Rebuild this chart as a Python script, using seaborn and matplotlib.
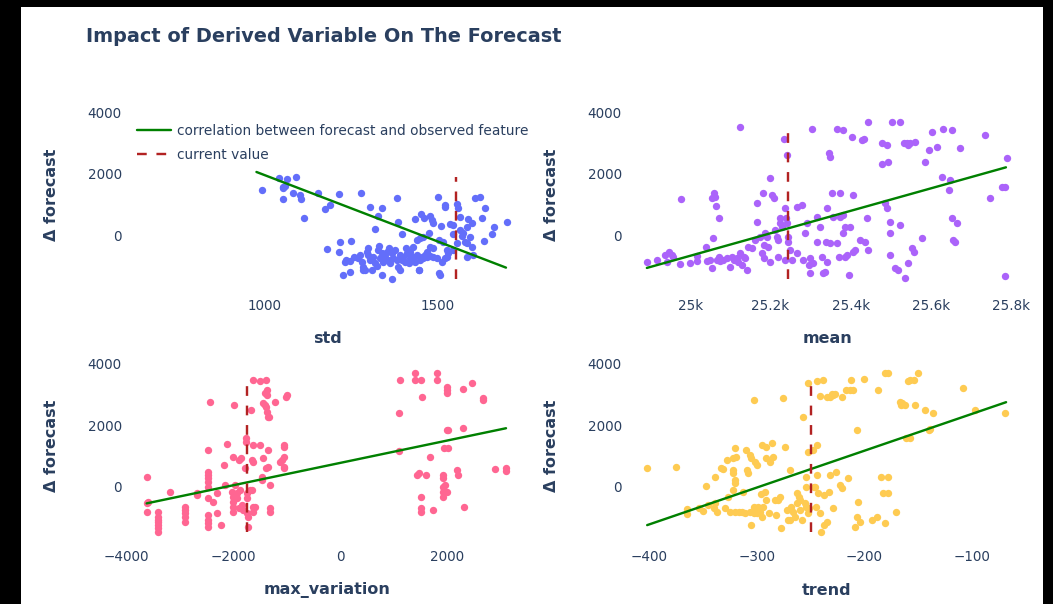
import matplotlib
matplotlib.use("Agg")
import matplotlib.pyplot as plt
import seaborn as sns
from matplotlib.patches import Rectangle

# ---- observed feature value vs. change in forecast ----
std_points = [
    (990, 1490), (1040, 1870), (1053, 1580), (1065, 1840), (1090, 1900), (1051, 1530),
    (1058, 1600), (1082, 1380), (1102, 1310), (1104, 1170), (1053, 1170), (1113, 570),
    (1153, 1380), (1181, -450), (1174, 840), (1189, 980), (1214, 1360), (1218, -210),
    (1214, -550), (1250, -190), (1279, 1380), (1305, 930), (1320, 190), (1329, 630),
    (1339, 880), (1383, 1220), (1385, 440), (1398, 40), (1437, 530), (1452, 700),
    (1462, 550), (1480, 630), (1484, 500), (1502, 1250), (1511, 300), (1487, 390),
    (1523, 980), (1523, 910), (1536, 360), (1547, 340), (1557, 1030), (1562, 880),
    (1567, 580), (1576, 60), (1586, 280), (1591, 520), (1601, 390), (1610, 1220),
    (1625, 1260), (1630, 550), (1635, -200), (1639, 880), (1664, 280), (1659, 40),
    (1702, 440), (1581, -210), (1586, -260), (1601, -370), (1557, -260), (1547, -480),
    (1528, -480), (1572, -20), (1545, 40), (1567, 170), (1596, -40), (1586, -690),
    (1605, -640), (1441, -150), (1450, -100), (1460, -40), (1475, 60), (1480, -370),
    (1489, -420), (1504, -150), (1518, -210), (1431, -370),
    (1232, -860), (1235, -800), (1247, -820), (1257, -690), (1271, -750), (1276, -640),
    (1281, -860), (1286, -1020), (1290, -1130), (1295, -530), (1300, -640), (1305, -800),
    (1315, -690), (1320, -910), (1324, -1000), (1329, -480), (1334, -750), (1339, -580),
    (1344, -860), (1349, -690), (1353, -530), (1358, -800), (1363, -910), (1368, -580),
    (1373, -750), (1378, -480), (1383, -800), (1387, -1020), (1392, -640), (1397, -800),
    (1402, -690), (1407, -860), (1412, -580), (1417, -910), (1421, -750), (1426, -800),
    (1431, -690), (1436, -860), (1441, -640), (1446, -1130), (1450, -800), (1455, -690),
    (1460, -750), (1465, -640), (1470, -690), (1480, -670), (1489, -690), (1499, -750),
    (1504, -1240), (1507, -1290), (1513, -860), (1523, -750), (1528, -690), (1533, -580),
    (1226, -1290), (1247, -1180), (1286, -1130), (1310, -1130), (1339, -1290), (1368, -1430),
    (1392, -1130), (1446, -1130), (1300, -420), (1330, -350), (1360, -420), (1420, -550),
    (1410, -420), (1470, -530),
]

mean_points = [
    (24892, -855), (24917, -801), (24938, -639), (24946, -531), (24954, -639), (24958, -693),
    (24942, -855), (24977, 1168), (24975, -931), (25000, -890), (25017, -671), (25017, -823),
    (25040, -368), (25041, -823), (25050, -801), (25054, -1072), (25058, -98), (25054, 1200),
    (25060, 1384), (25062, 1255), (25065, 952), (25071, 551), (25071, -693), (25075, -823),
    (25066, -801), (25083, -801), (25091, -747), (25100, -1018), (25104, -693), (25108, -801),
    (25116, -747), (25120, -855), (25125, -585), (25129, -963), (25133, -693), (25137, -747),
    (25141, -1126), (25145, -368), (25154, -422), (25125, 3527), (25162, -152), (25166, 1038),
    (25166, 443), (25174, -44), (25179, -585), (25183, -747), (25181, 1384), (25184, -314),
    (25187, 64), (25191, -44), (25195, -368), (25199, -855), (25199, 1871), (25203, 1309),
    (25208, 1200), (25212, 173), (25216, -44), (25220, -152), (25224, 551), (25224, 389),
    (25228, 281), (25220, -693), (25233, 3148), (25241, 2607), (25237, 876), (25239, 551),
    (25241, 389), (25245, -44), (25249, -477), (25253, -801), (25237, -801), (25245, -206),
    (25267, 930), (25266, -585), (25278, 984), (25281, -801), (25287, 64), (25291, 389),
    (25295, -963), (25299, -1234), (25303, 3473), (25299, -747), (25307, -909), (25316, -206),
    (25317, 605), (25324, 281), (25328, -693), (25332, -1212), (25336, -1180), (25339, -206),
    (25341, 876), (25341, -855), (25345, 2661), (25349, 2553), (25353, 1363), (25349, -260),
    (25357, 605), (25366, -260), (25370, -693), (25374, 605), (25374, 1363), (25366, 3473),
    (25382, 3419), (25382, 660), (25386, 281), (25382, 64), (25386, -693), (25390, -639),
    (25395, -1288), (25399, 281), (25403, 3202), (25407, 1309), (25407, -531), (25411, -477),
    (25424, -152), (25428, 3116), (25432, 3148), (25436, -206), (25440, 551), (25444, -477),
    (25444, 3689), (25478, 2986), (25478, 2315), (25490, 2932), (25494, 2391), (25486, 1038),
    (25490, 876), (25498, 443), (25498, 64), (25498, -639), (25503, 3689), (25511, -1072),
    (25519, -1126), (25523, 3689), (25523, 335), (25532, 2986), (25540, 2986), (25544, 2932),
    (25548, 2986), (25552, -422), (25557, -531), (25561, 3040), (25536, -1396), (25544, -909),
    (25577, -98), (25586, 2391), (25594, 2769), (25602, 3365), (25615, 2878), (25627, 1904),
    (25631, 3473), (25644, 1471), (25648, 1796), (25652, 3419), (25652, 551), (25656, -152),
    (25660, -206), (25665, 389), (25673, 2824), (25735, 3256), (25748, 1200), (25777, 1579),
    (25785, 1579), (25789, 2499), (25785, -1321),
]

max_variation_points = [
    (-3614, 326), (-3614, -542), (-3614, -814), (-3583, -488), (-3396, -814), (-3396, -977),
    (-3396, -1140), (-3396, -1248), (-3396, -1357), (-3396, -1466), (-3396, -1085), (-3178, -162),
    (-2897, -651), (-2897, -760), (-2897, -868), (-2897, -977), (-2897, -1140), (-2679, -217),
    (-2679, -271), (-2461, 1195), (-2461, 489), (-2461, 381), (-2461, 272), (-2461, 164),
    (-2461, 1), (-2461, -380), (-2461, -923), (-2461, -1085), (-2461, -1194), (-2461, -1303),
    (-2430, 2770), (-2368, -488), (-2305, -217), (-2293, -868), (-2231, -1248), (-2168, 706),
    (-2150, 55), (-2118, 1391), (-2025, -162), (-2006, 978), (-1994, -325), (-1994, -488),
    (-1994, -651), (-1994, -814), (-1981, 2661), (-1963, 55), (-1931, -217), (-1931, -380),
    (-1882, 869), (-1882, -705), (-1869, -108), (-1857, 924), (-1838, -597), (-1807, -760),
    (-1776, 598), (-1757, 1575), (-1757, 1467), (-1745, -217), (-1745, -380), (-1745, -868),
    (-1713, -977), (-1713, -1303), (-1682, -108), (-1670, 2498), (-1651, -108), (-1651, 869),
    (-1632, 1358), (-1620, 3476), (-1620, -651), (-1620, -814), (-1620, 815), (-1589, -651),
    (-1495, 3422), (-1495, 1358), (-1464, 326), (-1464, 218), (-1446, 924), (-1433, 2716),
    (-1402, 2661), (-1402, 3041), (-1383, 2607), (-1383, 3476), (-1371, 3150), (-1371, 2987),
    (-1358, 2444), (-1340, 2281), (-1340, 1195), (-1321, 2281), (-1308, -705), (-1308, -814),
    (-1308, 55), (-1383, 598), (-1340, 652), (-1215, 2770), (-1121, 815), (-1090, 869),
    (-1047, 1358), (-1047, 1304), (-1047, 978), (-1047, 652), (-1047, 598), (-1009, 2933),
    (-997, 2987),
    (1109, 2390), (1109, 1163), (1122, 3476), (1402, 3693), (1402, 3476), (1433, 381),
    (1483, 435), (1508, 3476), (1527, 2933), (1508, -325), (1508, -705), (1508, -814),
    (1608, 381), (1683, 978), (1745, -760), (1807, 3693), (1807, 3476), (1932, 381),
    (1932, 272), (1932, 1), (1932, -162), (1932, -325), (1944, 1249), (1963, 55),
    (1994, 3041), (1994, 3150), (1994, 3259), (1994, 1847), (1994, -162), (2025, 1847),
    (2025, 1249), (2181, 544), (2212, 381), (2305, 1901), (2305, 3172), (2318, -651),
    (2461, 3367), (2680, 2879), (2680, 2824), (2898, 565), (3103, 598), (3103, 522),
]

trend_points = [
    (-402, 598), (-375, 652), (-365, -738), (-365, -890), (-354, -705), (-350, -781),
    (-347, 33), (-345, -597), (-340, -705), (-339, 326), (-337, -814), (-339, -542),
    (-333, 598), (-331, 565), (-330, -705), (-328, 869), (-327, -325), (-325, -814),
    (-322, 924), (-322, 544), (-322, 435), (-320, 1249), (-320, 218), (-320, 109),
    (-322, -108), (-320, -814), (-319, 978), (-317, -814), (-314, -814), (-313, -162),
    (-311, -868), (-310, 1195), (-309, 544), (-308, 457), (-306, 1032), (-305, 924),
    (-306, -814), (-305, -1248), (-303, 2824), (-303, -868), (-303, -651), (-302, 815),
    (-300, 706), (-300, -868), (-299, -651), (-297, -814), (-296, -238), (-295, -977),
    (-295, 1358), (-294, -651), (-292, -162), (-291, 1304), (-291, 924), (-291, -434),
    (-289, -868), (-288, 815), (-286, 1412), (-285, 978), (-283, -434), (-282, -923),
    (-280, -434), (-278, -325), (-277, -1357), (-276, 2879), (-274, 1304), (-272, -760),
    (-271, -1085), (-269, 544), (-268, -651), (-269, -1085), (-266, -814), (-264, -977),
    (-263, -217), (-263, -542), (-261, -325), (-260, -434), (-260, -760), (-258, -1085),
    (-257, 2281), (-255, -542), (-254, 326), (-254, 1), (-254, -651), (-252, 3367),
    (-252, 1141), (-252, -868), (-251, -705), (-248, 1195), (-247, 1), (-246, 1),
    (-245, -651), (-244, 3422), (-244, 1358), (-244, 381), (-243, -217), (-241, 2955),
    (-241, -868), (-238, 3476), (-240, -1466), (-237, -1248), (-235, -1140), (-237, -271),
    (-235, 2933), (-233, -162), (-232, 2933), (-232, 381), (-230, 3020), (-229, 2987),
    (-229, -705), (-227, 3020), (-226, 489), (-223, 55), (-221, 2933), (-221, -54),
    (-217, 3150), (-215, 272), (-213, 3150), (-212, 3476), (-210, 3150), (-209, -1303),
    (-207, -977), (-207, 1847), (-206, -488), (-204, -1140), (-200, 3498), (-193, -1085),
    (-188, -977), (-187, 3150), (-184, 326), (-183, -195), (-181, 3693), (-178, 3693),
    (-181, -1194), (-178, -217), (-178, 305), (-170, -814), (-167, 2770), (-166, 2661),
    (-165, 2716), (-162, 2661), (-161, 1575), (-159, 3422), (-157, 3476), (-157, 1575),
    (-154, 3476), (-153, 2661), (-150, 3693), (-143, 2498), (-140, 1847), (-139, 1869),
    (-136, 2390), (-108, 3226), (-97, 2498), (-69, 2390),
]

# regression line end points (feature, delta forecast)
fit_lines = {
    "std": ([975, 1700], [2060, -1050]),
    "mean": ([24892, 25787], [-1060, 2211]),
    "max_variation": ([-3614, 3103], [-541, 1902]),
    "trend": ([-402, -68], [-1248, 2749]),
}

# current feature value and the vertical extent of its marker line
current_values = {"std": 1555, "mean": 25243, "max_variation": -1744, "trend": -250}
current_spans = {
    "std": (-1429, 1883),
    "mean": (-1429, 3365),
    "max_variation": (-1466, 3367),
    "trend": (-1466, 3367),
}

x_ticks = {
    "std": ([1000, 1500], ["1000", "1500"]),
    "mean": ([25000, 25200, 25400, 25600, 25800], ["25k", "25.2k", "25.4k", "25.6k", "25.8k"]),
    "max_variation": ([-4000, -2000, 0, 2000], ["\u22124000", "\u22122000", "0", "2000"]),
    "trend": ([-400, -300, -200, -100], ["\u2212400", "\u2212300", "\u2212200", "\u2212100"]),
}
x_limits = {
    "std": (596, 1764),
    "mean": (24840, 25842),
    "max_variation": (-4000, 3514),
    "trend": (-421.7, -47.6),
}
y_ticks = [0, 2000, 4000]
y_limits = (-1885, 4550)

point_colors = {
    "std": "#636EFA",
    "mean": "#AB63FA",
    "max_variation": "#FF6692",
    "trend": "#FECB52",
}

panels = [
    ("std", std_points),
    ("mean", mean_points),
    ("max_variation", max_variation_points),
    ("trend", trend_points),
]

# ---- styling ----
sns.set_theme(style="white")
plt.rcParams["font.family"] = ["DejaVu Sans"]
plt.rcParams["lines.scale_dashes"] = False

W, H = 1053, 604
PT = 0.72  # points per pixel at dpi 100
TEXT = "#2a3f5f"

fig = plt.figure(figsize=(W / 100, H / 100), dpi=100, facecolor="black")
fig.patches.append(Rectangle((21 / W, 0), (1043 - 21) / W, (H - 7) / H,
                             transform=fig.transFigure, facecolor="white",
                             edgecolor="none", zorder=-5))

# plot areas in pixels: left, top, width, height
col_left = [126, 626]
row_top = [95.4, 346.8]
ax_w, ax_h = 402, 197.9

fig.text(86 / W, 1 - 37 / H, "Impact of Derived Variable On The Forecast",
         ha="left", va="center", fontsize=19.3 * PT, fontweight="bold", color=TEXT)

legend_ax = None
for i, (name, pts) in enumerate(panels):
    r, c = divmod(i, 2)
    left = col_left[c] / W
    bottom = 1 - (row_top[r] + ax_h) / H
    ax = fig.add_axes([left, bottom, ax_w / W, ax_h / H])
    ax.set_facecolor("white")

    xs = [p[0] for p in pts]
    ys = [p[1] for p in pts]
    sns.scatterplot(x=xs, y=ys, color=point_colors[name], s=28, linewidth=0,
                    alpha=1.0, ax=ax, zorder=2)

    fx, fy = fit_lines[name]
    sns.lineplot(x=fx, y=fy, color="green", linewidth=2.4 * PT, ax=ax, zorder=3,
                 label="correlation between forecast and observed feature" if i == 0 else None,
                 legend=False)

    cx = current_values[name]
    y0, y1 = current_spans[name]
    ax.plot([cx, cx], [y0, y1], color="firebrick", linewidth=2.4 * PT,
            dashes=(7.0, 7.0), zorder=4, label="current value" if i == 0 else None)

    ax.set_xlim(*x_limits[name])
    ax.set_ylim(*y_limits)
    ticks, labels = x_ticks[name]
    ax.set_xticks(ticks)
    ax.set_xticklabels(labels)
    ax.set_yticks(y_ticks)
    ax.set_yticklabels([str(t) for t in y_ticks])
    ax.tick_params(axis="x", length=0, pad=3.8, labelsize=13.5 * PT, labelcolor=TEXT)
    ax.tick_params(axis="y", length=0, pad=3.0, labelsize=13.5 * PT, labelcolor=TEXT)
    for s in ax.spines.values():
        s.set_visible(False)
    ax.grid(False)

    ax.set_xlabel(name, fontsize=16 * PT, fontweight="bold", color=TEXT, va="center")
    ax.xaxis.set_label_coords(0.5, -0.23)
    ax.set_ylabel("\u0394 forecast", fontsize=16 * PT, fontweight="bold", color=TEXT, va="center")
    ax.yaxis.set_label_coords(-0.186, 0.5)

    if i == 0:
        legend_ax = ax

handles, labels = legend_ax.get_legend_handles_labels()
fig.legend(handles, labels, loc="upper left", bbox_to_anchor=(137 / W, 1 - 124 / H),
           bbox_transform=fig.transFigure, frameon=False, fontsize=13.7 * PT,
           handlelength=2.48, handletextpad=0.45, labelspacing=0.75,
           borderpad=0, borderaxespad=0, labelcolor=TEXT)

fig.savefig("out.png", dpi=100, facecolor=fig.get_facecolor())
